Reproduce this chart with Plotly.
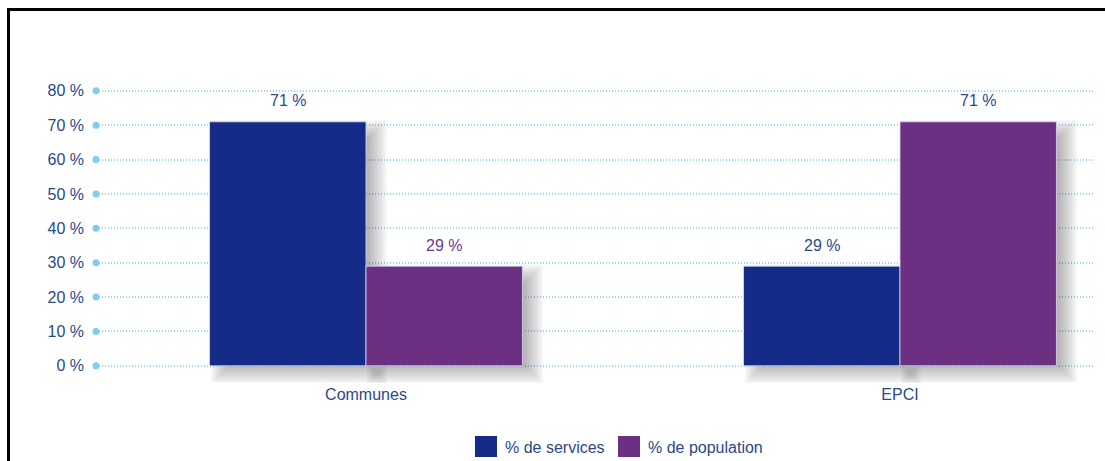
import plotly.graph_objects as go

# --- data -------------------------------------------------------------
categories = ["Communes", "EPCI"]
series_names = ["% de services", "% de population"]
services = [71, 29]
population = [29, 71]
y_ticks = [0, 10, 20, 30, 40, 50, 60, 70, 80]
y_tick_labels = ["0 %", "10 %", "20 %", "30 %", "40 %", "50 %", "60 %", "70 %", "80 %"]

# --- style ------------------------------------------------------------
BLUE = "#142c87"
PURPLE = "#6c3083"
TEXT_BLUE = "#2b4888"
GRID = "#9ad6f2"
DOT = "#7fcdef"
FONT = "Liberation Sans, Arial, sans-serif"
FS = 16

W, H = 1105, 461
ML, MR, MT, MB = 96, 10, 84, 78
PW, PH = W - ML - MR, H - MT - MB
X_RANGE = [-0.5056, -0.5056 + PW / 534.0]
Y_RANGE = [-5, 82]
px_x = PW / (X_RANGE[1] - X_RANGE[0])
px_y = PH / (Y_RANGE[1] - Y_RANGE[0])

GROUP = 0.586
BAR_W = GROUP / 2
xpos = list(range(len(categories)))

series = [
    (series_names[0], services, BLUE, [TEXT_BLUE, TEXT_BLUE]),
    (series_names[1], population, PURPLE, ["#6f3a8f", TEXT_BLUE]),
]

fig = go.Figure()

# soft drop shadows behind every bar (stacked translucent layers)
SH_DX, SH_DY = 11, 8
for i, (name, vals, color, _) in enumerate(series):
    off = -GROUP / 2 + i * BAR_W
    for e in range(-10, 11, 2):
        ex = e / px_x
        ey = e / px_y
        fig.add_trace(go.Bar(
            x=xpos,
            y=[v + 2 * ey for v in vals],
            base=[-SH_DY / px_y - ey] * len(vals),
            offset=off + SH_DX / px_x - ex,
            width=BAR_W + 2 * ex,
            marker=dict(color="rgba(0,0,0,0.032)", line=dict(width=0)),
            hoverinfo="skip",
            showlegend=False,
        ))

# the bars themselves
for i, (name, vals, color, _) in enumerate(series):
    off = -GROUP / 2 + i * BAR_W
    fig.add_trace(go.Bar(
        x=xpos,
        y=vals,
        offset=off,
        width=BAR_W,
        name=name,
        marker=dict(color=color, line=dict(color="rgba(225,220,240,0.8)", width=1)),
        showlegend=False,
    ))

# value labels above the bars
for i, (name, vals, color, tcolors) in enumerate(series):
    off = -GROUP / 2 + i * BAR_W
    for j, v in enumerate(vals):
        fig.add_annotation(
            x=xpos[j] + off + BAR_W / 2, y=v, text=f"{v} %",
            showarrow=False, yanchor="middle", yshift=21,
            font=dict(family=FONT, size=FS, color=tcolors[j]),
        )

# round markers at the start of each gridline
fig.add_trace(go.Scatter(
    x=[X_RANGE[0]] * len(y_ticks), y=y_ticks, mode="markers",
    marker=dict(color=DOT, size=7), cliponaxis=False,
    hoverinfo="skip", showlegend=False,
))

# legend swatches and labels
def paper_x(px):
    return (px - ML) / PW

def paper_y(py):
    return (H - MB - py) / PH

legend_items = [(series_names[0], BLUE, 475), (series_names[1], PURPLE, 618)]
for name, color, lx in legend_items:
    fig.add_shape(type="rect", xref="paper", yref="paper",
                  x0=paper_x(lx), x1=paper_x(lx + 22),
                  y0=paper_y(457), y1=paper_y(436),
                  fillcolor=color, line=dict(width=0))
    fig.add_annotation(xref="paper", yref="paper",
                       x=paper_x(lx + 28), y=paper_y(447),
                       xanchor="left", yanchor="middle", showarrow=False,
                       text=name, font=dict(family=FONT, size=FS, color=TEXT_BLUE))

# frame around the chart
fig.add_shape(type="rect", xref="paper", yref="paper",
              x0=paper_x(8.5), x1=paper_x(1120),
              y0=paper_y(480), y1=paper_y(9.5),
              line=dict(color="black", width=3), fillcolor="rgba(0,0,0,0)")

fig.update_layout(
    width=W, height=H,
    margin=dict(l=ML, r=MR, t=MT, b=MB),
    paper_bgcolor="white", plot_bgcolor="white",
    barmode="overlay",
    font=dict(family=FONT, size=FS, color=TEXT_BLUE),
    showlegend=False,
)
fig.update_xaxes(
    range=X_RANGE, tickvals=xpos, ticktext=categories,
    showgrid=False, zeroline=False, showline=False, ticks="",
    tickfont=dict(family=FONT, size=FS, color=TEXT_BLUE),
)
fig.update_yaxes(
    range=Y_RANGE, tickvals=y_ticks, ticktext=y_tick_labels,
    showgrid=True, gridcolor=GRID, griddash="1px,2px", gridwidth=1.5,
    zeroline=False, showline=False, ticks="", ticklabelstandoff=11,
    tickfont=dict(family=FONT, size=FS, color=TEXT_BLUE),
)

fig.write_html("out.html")
